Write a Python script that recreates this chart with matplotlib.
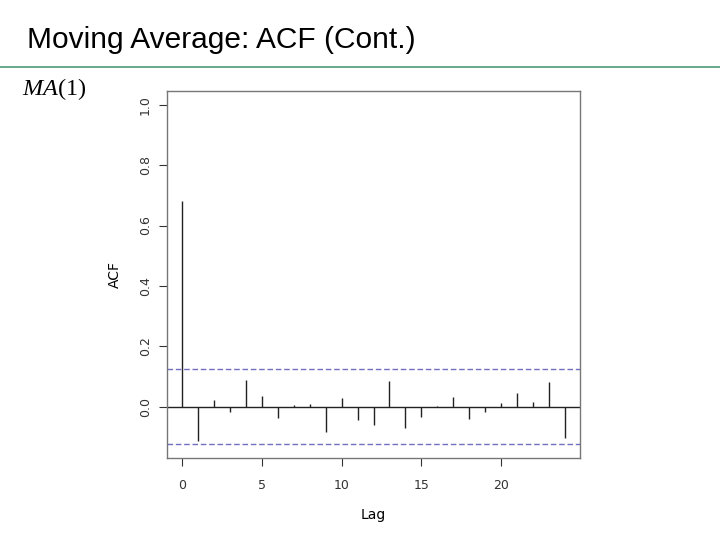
import numpy as np
import matplotlib.pyplot as plt

plt.rcParams['mathtext.fontset'] = 'custom'
plt.rcParams['mathtext.it'] = 'Liberation Serif:italic'
plt.rcParams['mathtext.rm'] = 'Liberation Serif'

# sample ACF of an MA(1) series, lags 0..24
lags = list(range(25))
acf = [0.68, -0.112, 0.023, -0.017, 0.088, 0.036, -0.038, 0.006, 0.009,
       -0.083, 0.029, -0.044, -0.061, 0.085, -0.070, -0.033, 0.002, 0.034,
       -0.040, -0.017, 0.012, 0.045, 0.016, 0.084, -0.104]
clim = 0.124
xticks = [0, 5, 10, 15, 20]
yticks = [0.0, 0.2, 0.4, 0.6, 0.8, 1.0]

fig = plt.figure(figsize=(7.2, 5.4), dpi=100)

# slide header
fig.text(27 / 720, 1 - 40 / 540, 'Moving Average: ACF (Cont.)', fontsize=21.5,
         family='Liberation Sans', va='center', ha='left')
fig.add_artist(plt.Line2D([0, 1], [1 - 67 / 540, 1 - 67 / 540], color='#4f9a7a', lw=1.2))
fig.text(22 / 720, 1 - 89 / 540, r'$MA$(1)', fontsize=17.5, family='Liberation Serif',
         va='center', ha='left')

ax = fig.add_axes([167 / 720, 1 - 458 / 540, 413 / 720, 367 / 540])
ax.vlines(lags, 0, acf, color='#222222', lw=1)
ax.axhline(0, color='#222222', lw=1)
ax.axhline(clim, color='#7070c0', lw=1, ls=(0, (4, 2)))
ax.axhline(-clim, color='#7070c0', lw=1, ls=(0, (4, 2)))

ax.set_xlim(-0.96, 24.96)
ax.set_ylim(-0.169, 1.045)
ax.set_xticks(xticks)
ax.set_yticks(yticks)
ax.set_yticklabels(['%.1f' % v for v in yticks], rotation=90, va='center')
for s in ax.spines.values():
    s.set_color('#777777')
    s.set_linewidth(1)
ax.tick_params(axis='both', labelsize=9, colors='#333333', length=6, width=0.8,
               direction='out', pad=9)
ax.tick_params(axis='y', pad=5)
ax.set_xlabel('Lag', fontsize=10, labelpad=12)
ax.set_ylabel('ACF', fontsize=10, labelpad=12)

plt.savefig('out.png', dpi=100)
